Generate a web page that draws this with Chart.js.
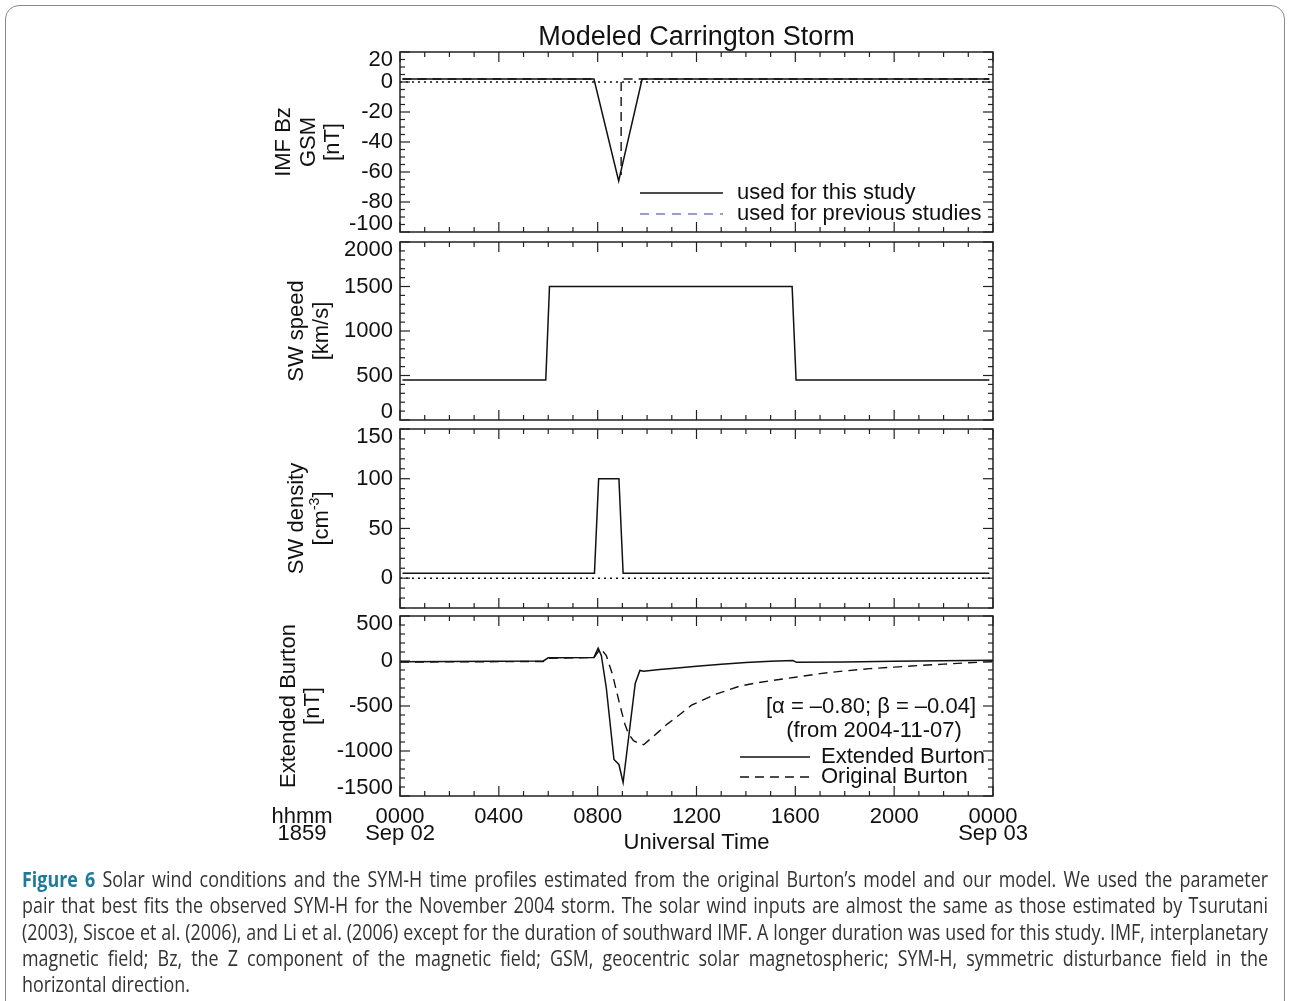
<!DOCTYPE html>
<html>
<head>
<meta charset="utf-8">
<title>Modeled Carrington Storm</title>
<script src="https://cdn.jsdelivr.net/npm/chart.js@4/dist/chart.umd.min.js"></script>
<style>
  body { margin: 0; width: 1290px; height: 1001px; overflow: hidden; position: relative; background: #fff; }
  .frame { position: absolute; left: 5px; top: 5px; width: 1278px; height: 1030px; border: 1px solid #8a8a8a; border-radius: 14px; }
  canvas.panel { position: absolute; left: 0; top: 0; }
  #caption { position: absolute; left: 22px; top: 866px; width: 1246px; color: #333;
    font-family: "Open Sans", "Noto Sans", sans-serif;
    font-size: 21px; line-height: 26.3px; }
  #caption div { text-align: justify; text-align-last: justify; }
  #caption div.last { text-align-last: left; }
  #caption b { color: #1f7a99; }
</style>
</head>
<body>
<div class="frame"></div>
<canvas class="panel" id="bz" width="1290" height="1001"></canvas>
<canvas class="panel" id="speed" width="1290" height="1001"></canvas>
<canvas class="panel" id="density" width="1290" height="1001"></canvas>
<canvas class="panel" id="dst" width="1290" height="1001"></canvas>
<div id="caption">
  <div><b>Figure 6</b> Solar wind conditions and the SYM-H time profiles estimated from the original Burton’s model and our model. We used the parameter</div>
  <div>pair that best fits the observed SYM-H for the November 2004 storm. The solar wind inputs are almost the same as those estimated by Tsurutani</div>
  <div>(2003), Siscoe et al. (2006), and Li et al. (2006) except for the duration of southward IMF. A longer duration was used for this study. IMF, interplanetary</div>
  <div>magnetic field; Bz, the Z component of the magnetic field; GSM, geocentric solar magnetospheric; SYM-H, symmetric disturbance field in the</div>
  <div class="last">horizontal direction.</div>
</div>
<script>
// x = hours since 0000 UT, Sep 02 1859
const xTickValues = [0, 4, 8, 12, 16, 20, 24];
const xTickLabels = ['0000', '0400', '0800', '1200', '1600', '2000', '0000'];

// IMF Bz (nT)
const bzHours = [0.1, 7.85, 8.85, 9.8, 23.85];
const bzThisStudy = [2, 2, -66, 2, 2];
const bzPrevHours = [0.1, 7.85, 8.4, 8.95, 8.95, 9.0, 9.05, 23.85];
const bzPrevious = [2, 2, null, 0, -62, null, 2, 2];
const bzTicks = [-100, -80, -60, -40, -20, 0, 20];

// solar wind speed (km/s)
const speedHours = [0.1, 5.9, 6.05, 15.87, 16.03, 23.85];
const swSpeed = [450, 450, 1500, 1500, 450, 450];
const speedTicks = [0, 500, 1000, 1500, 2000];

// solar wind density (cm^-3)
const densityHours = [0.1, 7.87, 8.04, 8.86, 9.03, 23.85];
const swDensity = [5, 5, 100, 100, 5, 5];
const densityTicks = [0, 50, 100, 150];

// zero reference line
const zeroHours = [0, 24];
const zeroLine = [0, 0];

// SYM-H (nT)
const extHours = [0, 5.8, 6.0, 7.85, 8.02, 8.15, 8.35, 8.66, 8.86, 9.03, 9.52, 9.71, 9.86, 10.5, 11, 12, 13, 14, 15, 15.9, 16.05, 18, 20, 22, 24];
const extendedBurton = [-8, 0, 35, 40, 143, 60, -300, -1094, -1150, -1350, -250, -105, -113, -95, -82, -57, -35, -17, -3, 5, -15, -10, -3, 2, 7];
const origHours = [0, 5.8, 6.0, 7.85, 8.12, 8.35, 8.6, 8.9, 9.1, 9.25, 9.45, 9.67, 9.86, 10.45, 10.83, 11.3, 11.8, 12.77, 13.74, 14.5, 15.1, 16, 17, 18, 19, 20, 21, 22, 23, 24];
const originalBurton = [-12, -5, 30, 38, 140, 60, -150, -490, -700, -810, -885, -915, -930, -790, -698, -600, -490, -370, -280, -240, -215, -180, -140, -110, -85, -68, -50, -35, -20, -8];
const dstTicks = [-1500, -1000, -500, 0, 500];

const FONT = '"Liberation Sans", Arial, Helvetica, sans-serif';
const INK = '#111';
const pts = (xs, ys) => xs.map((x, i) => ({ x: x, y: ys[i] }));

function line(ctx, x1, y1, x2, y2) {
  ctx.beginPath(); ctx.moveTo(x1, y1); ctx.lineTo(x2, y2); ctx.stroke();
}

// box, inward ticks, labels and notes in the IDL style of the original
const framePlugin = {
  id: 'frame',
  afterDatasetsDraw(chart, args, o) {
    const ctx = chart.ctx, a = chart.chartArea, x = chart.scales.x, y = chart.scales.y;
    ctx.save();
    ctx.strokeStyle = '#222';
    ctx.lineWidth = 1.2;
    ctx.setLineDash([]);
    for (let h = 0; h <= 24; h++) {
      const px = x.getPixelForValue(h), len = h % 4 === 0 ? 10 : 5;
      line(ctx, px, a.bottom, px, a.bottom - len);
      line(ctx, px, a.top, px, a.top + len);
    }
    const n = Math.round((y.max - y.min) / o.minor);
    for (let i = 0; i <= n; i++) {
      const v = y.min + i * o.minor, py = y.getPixelForValue(v);
      const len = Math.abs(v % o.major) < 1e-6 ? 10 : 5;
      line(ctx, a.left, py, a.left + len, py);
      line(ctx, a.right, py, a.right - len, py);
    }
    ctx.lineWidth = 1.5;
    ctx.strokeRect(a.left, a.top, a.right - a.left, a.bottom - a.top);

    ctx.fillStyle = INK;
    ctx.font = '22px ' + FONT;
    ctx.textAlign = 'right';
    ctx.textBaseline = 'middle';
    o.ticks.forEach(v => {
      const py = Math.min(Math.max(y.getPixelForValue(v), a.top + 8), a.bottom - 8);
      ctx.fillText(String(v), a.left - 7, py);
    });

    // rotated axis title
    const cy = (a.top + a.bottom) / 2;
    o.title.forEach((t, i) => {
      ctx.save();
      ctx.translate(o.titleX[i], cy);
      ctx.rotate(-Math.PI / 2);
      ctx.textAlign = 'left';
      const parts = Array.isArray(t) ? t : [[t, 0]];
      let w = 0;
      parts.forEach(p => { ctx.font = (p[1] ? '14px ' : '22px ') + FONT; w += ctx.measureText(p[0]).width; });
      let cx = -w / 2;
      parts.forEach(p => {
        ctx.font = (p[1] ? '14px ' : '22px ') + FONT;
        ctx.fillText(p[0], cx, p[1] ? -7 : 0);
        cx += ctx.measureText(p[0]).width;
      });
      ctx.restore();
    });

    ctx.font = '22px ' + FONT;
    ctx.textAlign = 'left';
    (o.legend || []).forEach(L => {
      ctx.strokeStyle = L.color;
      ctx.lineWidth = 1.6;
      ctx.setLineDash(L.dash);
      line(ctx, L.x1, L.y, L.x2, L.y);
      ctx.setLineDash([]);
      ctx.fillText(L.text, L.tx, L.y);
    });
    (o.notes || []).forEach(N => {
      ctx.textAlign = 'center';
      ctx.fillText(N.text, N.x, N.y);
    });

    if (o.heading) {
      ctx.textAlign = 'center';
      ctx.font = '27px ' + FONT;
      ctx.fillText(o.heading, (a.left + a.right) / 2, a.top - 14);
    }

    if (o.xLabels) {
      ctx.font = '22px ' + FONT;
      ctx.textAlign = 'center';
      xTickValues.forEach((v, i) => ctx.fillText(xTickLabels[i], x.getPixelForValue(v), a.bottom + 21));
      ctx.fillText('Sep 02', x.getPixelForValue(0), a.bottom + 38);
      ctx.fillText('Sep 03', x.getPixelForValue(24), a.bottom + 38);
      ctx.fillText('hhmm', a.left - 98, a.bottom + 21);
      ctx.fillText('1859', a.left - 98, a.bottom + 38);
      ctx.fillText('Universal Time', (a.left + a.right) / 2, a.bottom + 47);
    }
    ctx.restore();
  }
};

function makePanel(id, top, bottom, ymin, ymax, datasets, frame) {
  return new Chart(document.getElementById(id), {
    type: 'line',
    data: { datasets: datasets },
    plugins: [framePlugin],
    options: {
      responsive: false,
      animation: false,
      devicePixelRatio: 1,
      layout: { padding: { left: 400, right: 297, top: top, bottom: 1001 - bottom } },
      elements: { point: { radius: 0 }, line: { tension: 0 } },
      scales: {
        x: { type: 'linear', min: 0, max: 24, display: false },
        y: { type: 'linear', min: ymin, max: ymax, display: false }
      },
      plugins: { legend: { display: false }, tooltip: { enabled: false }, frame: frame }
    }
  });
}

const solid = (data) => ({ data: data, borderColor: INK, borderWidth: 1.5, spanGaps: false });
const dashed = (data) => ({ data: data, borderColor: INK, borderWidth: 1.4, borderDash: [9, 6], spanGaps: false });
const dotted = (data) => ({ data: data, borderColor: INK, borderWidth: 1.5, borderDash: [2, 4] });

makePanel('bz', 52, 232, -100, 20, [
  dotted(pts(zeroHours, zeroLine)),
  dashed(pts(bzPrevHours, bzPrevious)),
  solid(pts(bzHours, bzThisStudy))
], {
  major: 20, minor: 5, ticks: bzTicks,
  title: ['IMF Bz', 'GSM', '[nT]'], titleX: [284, 309, 333],
  heading: 'Modeled Carrington Storm',
  legend: [
    { text: 'used for this study', color: INK, dash: [], x1: 640, x2: 723, y: 193, tx: 737 },
    { text: 'used for previous studies', color: '#6f82c6', dash: [9, 7], x1: 640, x2: 723, y: 214, tx: 737 }
  ]
});

makePanel('speed', 242, 420, 0, 2000, [
  solid(pts(speedHours, swSpeed))
], {
  major: 500, minor: 100, ticks: speedTicks,
  title: ['SW speed', '[km/s]'], titleX: [297, 322]
});

makePanel('density', 429, 608, -30, 150, [
  dotted(pts(zeroHours, zeroLine)),
  solid(pts(densityHours, swDensity))
], {
  major: 50, minor: 10, ticks: densityTicks,
  title: ['SW density', [['[cm', 0], ['-3', 1], [']', 0]]], titleX: [297, 322]
});

makePanel('dst', 616, 796, -1500, 500, [
  dashed(pts(origHours, originalBurton)),
  solid(pts(extHours, extendedBurton))
], {
  major: 500, minor: 100, ticks: dstTicks,
  title: ['Extended Burton', '[nT]'], titleX: [289, 313],
  notes: [
    { text: '[α = –0.80; β = –0.04]', x: 871, y: 707 },
    { text: '(from 2004-11-07)', x: 874, y: 731 }
  ],
  legend: [
    { text: 'Extended Burton', color: INK, dash: [], x1: 740, x2: 810, y: 757, tx: 821 },
    { text: 'Original Burton', color: INK, dash: [9, 6], x1: 740, x2: 810, y: 777, tx: 821 }
  ],
  xLabels: true
});

// condensed caption: one common horizontal squeeze, each line justified to full width
const capLines = Array.from(document.querySelectorAll('#caption div'));
capLines.forEach(d => { d.style.display = 'inline-block'; d.style.whiteSpace = 'nowrap'; });
const widest = Math.max(...capLines.slice(0, 4).map(d => d.getBoundingClientRect().width));
const squeeze = Math.min(1, 1246 / (widest + 6));
capLines.forEach(d => {
  d.style.display = 'block';
  d.style.whiteSpace = 'normal';
  d.style.width = (1246 / squeeze) + 'px';
  d.style.transform = 'scaleX(' + squeeze + ')';
  d.style.transformOrigin = '0 0';
});
</script>
</body>
</html>
